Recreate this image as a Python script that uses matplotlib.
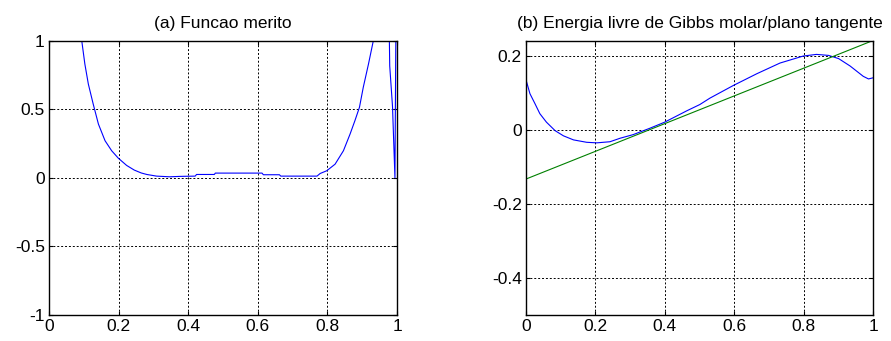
import matplotlib.pyplot as plt

plt.rcParams['font.family'] = ['Liberation Sans', 'DejaVu Sans']
plt.rcParams['font.size'] = 12.5

# (a) merit function
xa = [0.094, 0.103, 0.113, 0.127, 0.142, 0.161, 0.180, 0.199, 0.223, 0.245, 0.265,
      0.281, 0.309, 0.347, 0.376, 0.420, 0.424, 0.475, 0.478, 0.612, 0.616, 0.662,
      0.666, 0.770, 0.779, 0.798, 0.822, 0.846, 0.865, 0.879, 0.892, 0.903, 0.918,
      0.932, 0.978, 0.979, 0.987, 0.994, 0.9965]
ya = [1.0, 0.829, 0.683, 0.537, 0.391, 0.270, 0.197, 0.143, 0.090, 0.056, 0.035,
      0.024, 0.012, 0.007, 0.010, 0.012, 0.024, 0.024, 0.034, 0.034, 0.022, 0.022,
      0.012, 0.012, 0.031, 0.051, 0.099, 0.197, 0.318, 0.416, 0.513, 0.659, 0.829,
      1.0, 1.0, 0.815, 0.52, 0.0, 1.0]

# (b) molar Gibbs energy and tangent plane
xb = [0.0, 0.0115, 0.026, 0.040, 0.059, 0.084, 0.108, 0.137, 0.175, 0.204, 0.242,
      0.271, 0.309, 0.357, 0.399, 0.464, 0.501, 0.530, 0.597, 0.665, 0.732, 0.799,
      0.837, 0.872, 0.901, 0.934, 0.972, 0.987, 1.0]
yb = [0.137, 0.099, 0.072, 0.045, 0.022, -0.001, -0.015, -0.026, -0.0325, -0.034,
      -0.031, -0.0216, -0.0117, 0.0055, 0.0217, 0.053, 0.0697, 0.087, 0.121, 0.153,
      0.182, 0.201, 0.2054, 0.2027, 0.194, 0.174, 0.146, 0.139, 0.142]
xt = [0.0, 1.0]
yt = [-0.132, 0.243]

fig = plt.figure(figsize=(8.91, 3.41), dpi=100)
ax1 = fig.add_axes([0.055, 0.0762, 0.3906, 0.805])
ax2 = fig.add_axes([0.5903, 0.0762, 0.3895, 0.805])

ax1.plot(xa, ya, color='blue', lw=0.8)
ax1.set_xlim(0, 1)
ax1.set_ylim(-1, 1)
ax1.set_xticks([0, 0.2, 0.4, 0.6, 0.8, 1])
ax1.set_xticklabels(['0', '0.2', '0.4', '0.6', '0.8', '1'])
ax1.set_yticks([-1, -0.5, 0, 0.5, 1])
ax1.set_yticklabels(['-1', '-0.5', '0', '0.5', '1'])
ax1.set_title('(a) Funcao merito', fontsize=12.5, pad=9)

ax2.plot(xb, yb, color='blue', lw=0.8)
ax2.plot(xt, yt, color='green', lw=0.8)
ax2.set_xlim(0, 1)
ax2.set_ylim(-0.5, 0.243)
ax2.set_xticks([0, 0.2, 0.4, 0.6, 0.8, 1])
ax2.set_xticklabels(['0', '0.2', '0.4', '0.6', '0.8', '1'])
ax2.set_yticks([-0.4, -0.2, 0, 0.2])
ax2.set_yticklabels(['-0.4', '-0.2', '0', '0.2'])
ax2.set_title('(b) Energia livre de Gibbs molar/plano tangente', fontsize=12.5, pad=9)

for ax in (ax1, ax2):
    ax.grid(True, color='black', linestyle=(0, (2, 2)), linewidth=0.7)
    ax.tick_params(direction='in', length=3, top=True, right=True, labelsize=12.5, pad=3)
    for s in ax.spines.values():
        s.set_linewidth(1.0)

fig.savefig('out.png', dpi=100)
